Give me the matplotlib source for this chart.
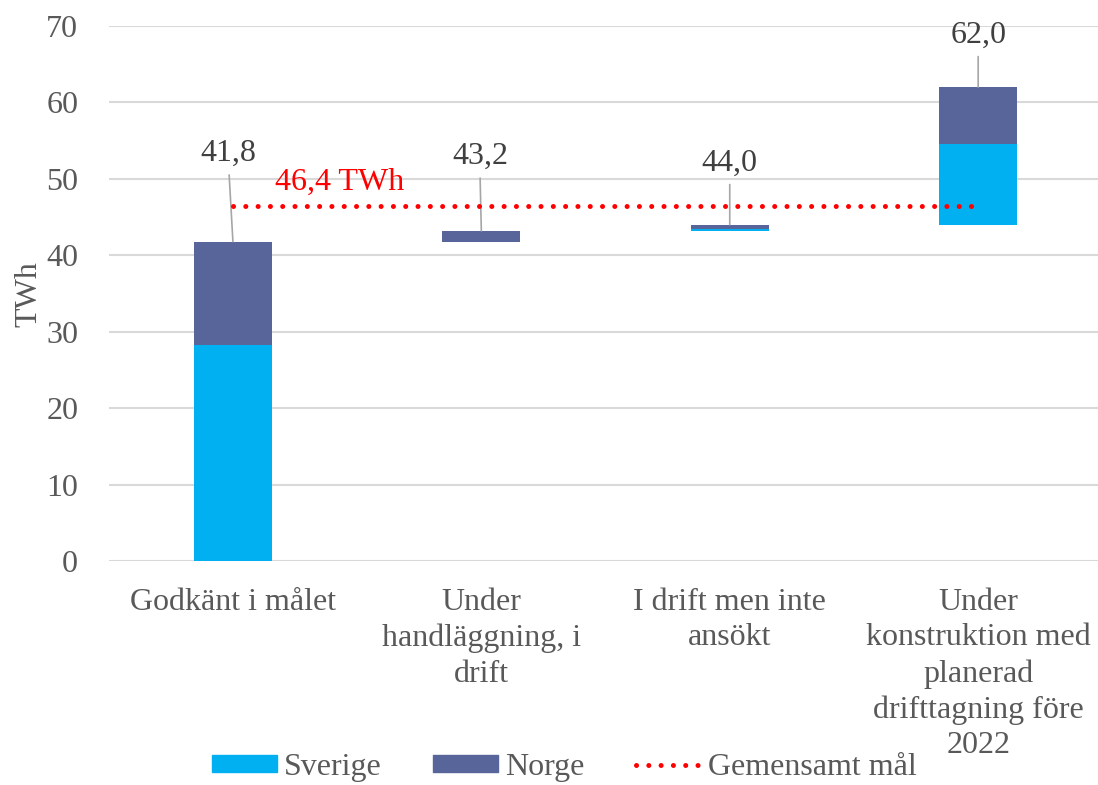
import matplotlib.pyplot as plt
from matplotlib.patches import Patch
from matplotlib.lines import Line2D

# data
categories = ["Godkänt i målet",
              "Under\nhandläggning, i\ndrift",
              "I drift men inte\nansökt",
              "Under\nkonstruktion med\nplanerad\ndrifttagning före\n2022"]
sverige = [28.3, 0.0, 0.3, 10.5]
norge = [13.5, 1.4, 0.5, 7.5]
totals = [41.8, 43.2, 44.0, 62.0]
target = 46.4

c_se = "#00B0F0"
c_no = "#58659A"
txt = "#595959"
fs = 23
dots = (0, (0.01, 2.45))

plt.rcParams['font.family'] = ['Liberation Serif', 'DejaVu Serif']

fig = plt.figure(figsize=(10.98, 7.85), dpi=100)
ax = fig.add_axes([0.099, 0.285, 0.905, 0.682])

x = list(range(len(categories)))
base = [0.0] + totals[:-1]
w = 0.315
ax.bar(x, sverige, w, bottom=base, color=c_se, zorder=3)
ax.bar(x, norge, w, bottom=[b + s for b, s in zip(base, sverige)], color=c_no, zorder=3)

ax.plot([0, 3], [target, target], color="red", linestyle=dots,
        linewidth=3.6, dash_capstyle="round", zorder=4)
ax.text(0.43, 49.6, "46,4 TWh", color="red", fontsize=fs, ha="center", va="center")

# data labels with leader lines
offsets = [(-3, 53), (-1, 43), (0, 34), (0, 27)]
for xi, t, off in zip(x, totals, offsets):
    ax.annotate(f"{t:.1f}".replace(".", ","), xy=(xi, t), xytext=off,
                textcoords="offset points", ha="center", va="bottom",
                fontsize=fs, color="#404040",
                arrowprops=dict(arrowstyle="-", color="#A6A6A6", lw=1.2,
                                shrinkA=3, shrinkB=0, relpos=(0.5, 0)))

ax.set_ylim(0, 70)
ax.set_xlim(-0.5, 3.5)
ax.set_yticks(range(0, 71, 10))
ax.set_xticks(x)
ax.set_xticklabels(categories, linespacing=1.3)
ax.tick_params(axis="both", length=0, labelsize=fs, labelcolor=txt)
ax.tick_params(axis="x", pad=19)
ax.tick_params(axis="y", pad=22)
ax.yaxis.grid(True, color="#D9D9D9", linewidth=1.5, zorder=0)
ax.set_axisbelow(True)
for s in ax.spines.values():
    s.set_visible(False)
ax.set_ylabel("TWh", fontsize=fs, color=txt, labelpad=2)

handles = [Patch(color=c_se, label="Sverige"),
           Patch(color=c_no, label="Norge"),
           Line2D([], [], color="red", linestyle=dots, linewidth=3.6,
                  dash_capstyle="round", label="Gemensamt mål")]
leg = fig.legend(handles=handles, loc="lower center", bbox_to_anchor=(0.514, -0.033),
                 ncol=3, frameon=False, fontsize=fs, handlelength=2.05,
                 handleheight=0.45, columnspacing=1.6, handletextpad=0.22)
for t in leg.get_texts():
    t.set_color(txt)

plt.savefig("out.png", dpi=100)
